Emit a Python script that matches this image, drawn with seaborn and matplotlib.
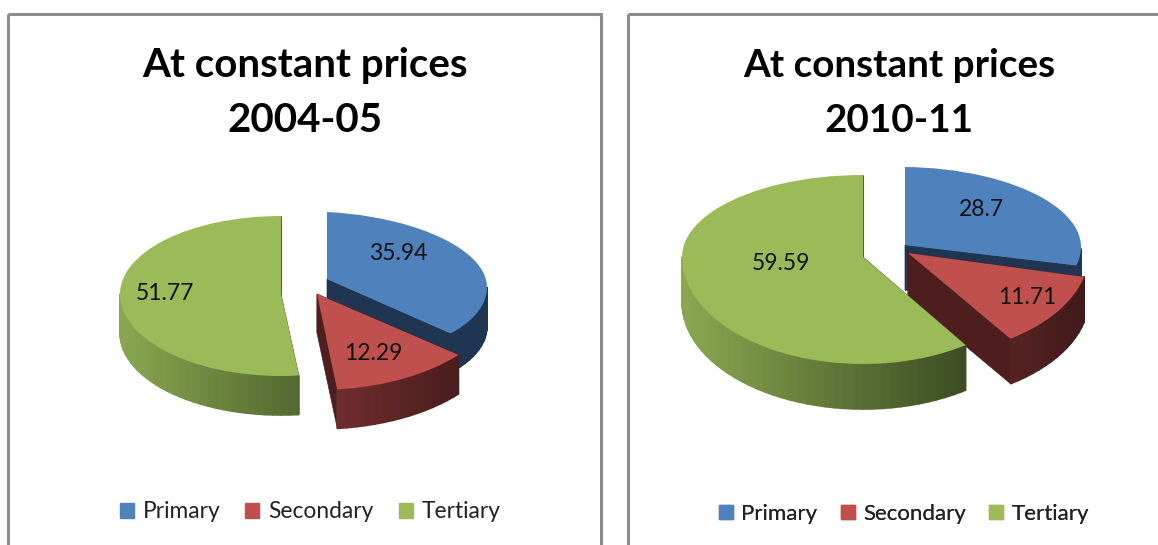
import numpy as np
import matplotlib
matplotlib.use("Agg")
import matplotlib.pyplot as plt
from matplotlib.patches import Patch, Rectangle
from matplotlib.transforms import Transform
import seaborn as sns

sectors = ["Primary", "Secondary", "Tertiary"]
share_2004 = [35.94, 12.29, 51.77]
share_2010 = [28.7, 11.71, 59.59]
title_2004 = "At constant prices\n2004-05"
title_2010 = "At constant prices\n2010-11"

sns.set_theme(style="white")
plt.rcParams["font.family"] = ["Lato", "DejaVu Sans"]
palette = sns.color_palette(["#4F81BD", "#C0504D", "#9BBB59"])

# wall shading, left to right across a pie
wall_light = np.array([[31, 53, 82], [180, 72, 72], [138, 168, 80]]) / 255
wall_dark = np.array([[31, 53, 82], [65, 26, 26], [28, 38, 15]]) / 255
cut_colors = np.array([[31, 53, 82], [78, 30, 30], [80, 100, 45]]) / 255

W, H = 1158, 545


class SliceWarp(Transform):
    """Unit circle to the tilted ellipse of one slice, in pixels."""
    input_dims = 2
    output_dims = 2
    is_separable = False
    has_inverse = False

    def __init__(self, apex_x, apex_y, rx, up, down, skew):
        super().__init__()
        self.geom = (apex_x, apex_y, rx, up, down, skew)

    def transform_non_affine(self, values):
        apex_x, apex_y, rx, up, down, skew = self.geom
        x, y = np.asarray(values, dtype=float).T
        ry = np.where(y > 0, up, down)
        return np.column_stack([apex_x + rx * x, apex_y - ry * y + skew * x])


def draw_pie(ax, values, geoms, depth, span):
    wedges, _ = ax.pie(values, colors=palette, startangle=90, counterclock=False, radius=1)
    for i, (wedge, geom) in enumerate(zip(wedges, geoms)):
        warp = SliceWarp(*geom)
        z = 2 + i
        wedge.set_transform(warp + ax.transData)
        wedge.set_edgecolor("none")
        wedge.set_zorder(z + 0.5)
        wedge.set_clip_on(False)

        # cut faces
        for theta in (wedge.theta1, wedge.theta2):
            t = np.radians(theta)
            p = warp.transform(np.array([[0, 0], [np.cos(t), np.sin(t)]]))
            poly = np.vstack([p, p[::-1] + [0, depth]])
            ax.fill(poly[:, 0], poly[:, 1], color=cut_colors[i], lw=0.5, zorder=z)

        # outer wall, only the part facing the viewer
        angles = np.radians(np.arange(wedge.theta1, wedge.theta2 + 3, 3))
        angles = np.minimum(angles, np.radians(wedge.theta2))
        angles = angles[np.sin(angles) <= 0]
        rim = warp.transform(np.column_stack([np.cos(angles), np.sin(angles)]))
        for a, b in zip(rim[:-1], rim[1:]):
            f = np.clip((0.5 * (a[0] + b[0]) - span[0]) / (span[1] - span[0]), 0, 1)
            col = wall_light[i] + (wall_dark[i] - wall_light[i]) * f
            xs = [a[0], b[0], b[0], a[0]]
            ys = [a[1], b[1], b[1] + depth, a[1] + depth]
            ax.fill(xs, ys, facecolor=col, edgecolor=col, lw=1.2, joinstyle="round", zorder=z + 0.1)
    return wedges


fig = plt.figure(figsize=(W / 100, H / 100), dpi=100, facecolor="white")
ax = fig.add_axes([0, 0, 1, 1])

draw_pie(
    ax, share_2004,
    [(327, 279, 160, 67, 76, 8), (317, 294, 183, 90, 96, 0), (281, 294, 161, 78, 82, 0)],
    39, (120, 486),
)
draw_pie(
    ax, share_2010,
    [(905, 245, 176, 78, 80, 2), (908, 253, 181, 96, 104, 0), (863, 257, 181, 82, 107, 0)],
    45, (683, 1084),
)

ax.set_aspect("auto")
ax.set_xlim(0, W)
ax.set_ylim(H, 0)
ax.axis("off")

# panel frames
for x0, width in [(8, 593), (628, 600)]:
    ax.add_patch(Rectangle((x0, 14), width, 560, fill=False, ec="#8c8c8c", lw=2.2, zorder=1))

ax.text(305, 93, title_2004, ha="center", va="center", fontsize=29, fontweight="bold",
        color="black", linespacing=1.62)
ax.text(899, 93, title_2010, ha="center", va="center", fontsize=27.8, fontweight="bold",
        color="black", linespacing=1.68)

for value, (x, y) in zip(share_2004, [(398, 253), (373, 354), (165, 293)]):
    ax.text(x, y, f"{value:g}", ha="center", va="center", fontsize=16.5, color="#111111", zorder=10)
for value, (x, y) in zip(share_2010, [(981, 209), (1027, 297), (781, 263)]):
    ax.text(x, y, f"{value:g}", ha="center", va="center", fontsize=16.5, color="#111111", zorder=10)

handles = [Patch(color=c, label=s) for c, s in zip(palette, sectors)]
for cx, cy, size, gap in [(310, 512, 16.4, 1.1), (904, 514, 16, 1.05)]:
    leg = ax.legend(handles=handles, loc="center", bbox_to_anchor=(cx, cy),
                    bbox_transform=ax.transData, ncols=3, frameon=False, fontsize=size,
                    handlelength=0.62, handleheight=0.62, handletextpad=0.38,
                    columnspacing=gap, labelcolor="#222222")
    ax.add_artist(leg)

fig.savefig("out.png", dpi=100)
